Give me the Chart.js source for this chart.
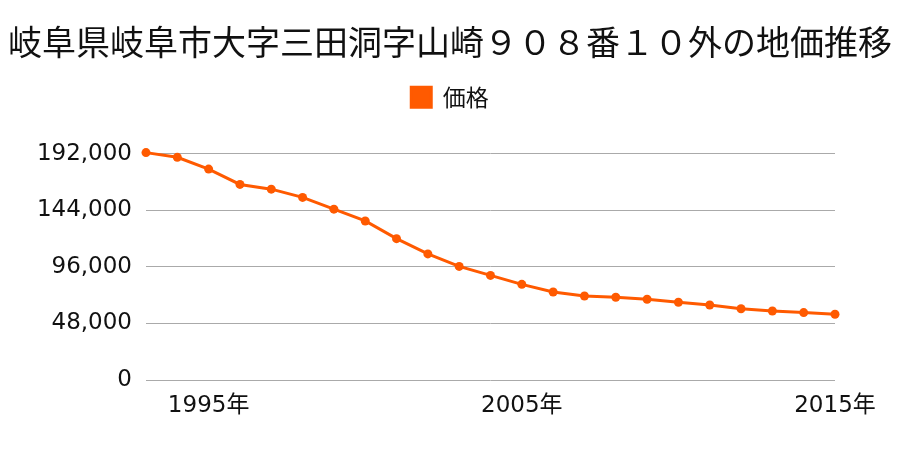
<!DOCTYPE html>
<html><head><meta charset="utf-8">
<script src="https://cdn.jsdelivr.net/npm/chart.js@4.4.1/dist/chart.umd.min.js"></script>
<style>html,body{margin:0;padding:0;background:#fff;}#wrap{width:900px;height:450px;}</style>
</head><body><div id="wrap"><canvas id="c" width="900" height="450"></canvas></div>
<script>
const titleText = '岐阜県岐阜市大字三田洞字山崎９０８番１０外の地価推移';
const seriesName = '価格';
const years = ['1993','1994','1995','1996','1997','1998','1999','2000','2001','2002','2003','2004','2005','2006','2007','2008','2009','2010','2011','2012','2013','2014','2015'];
const prices = [193000,189000,179000,166000,162000,155000,145000,135000,120000,107000,96400,88800,81200,74700,71300,70200,68500,66000,63700,60500,58600,57200,55800];
const xTickLabels = {'1995':'1995年','2005':'2005年','2015':'2015年'};
const yTicks = [0,48000,96000,144000,192000];

const color = '#ff5a00';
const latin = "'DejaVu Sans','Noto Sans CJK JP',sans-serif";
const cjk = "'Noto Sans CJK JP',sans-serif";

new Chart(document.getElementById('c'), {
  type: 'line',
  data: {
    labels: years,
    datasets: [{
      label: seriesName,
      data: prices,
      borderColor: color,
      backgroundColor: color,
      borderWidth: 3,
      pointRadius: 4.5,
      pointBorderWidth: 0,
      pointBackgroundColor: color,
      tension: 0,
      clip: false,
      yAxisID: 'y'
    }]
  },
  options: {
    responsive: false,
    devicePixelRatio: 1,
    animation: false,
    layout: { padding: 0 },
    plugins: {
      title: {
        display: true,
        text: titleText,
        color: '#111',
        font: { family: cjk, size: 34, weight: 'normal', lineHeight: 1.2 },
        padding: { top: 22, bottom: 13 }
      },
      subtitle: {
        display: true,
        text: ' ',
        weight: 500,
        font: { size: 10, lineHeight: 1.2 },
        padding: { top: 0, bottom: 23 }
      },
      legend: {
        display: true,
        labels: {
          boxWidth: 20,
          boxHeight: 20,
          color: '#111',
          font: { family: cjk, size: 23 }
        }
      },
      tooltip: { enabled: false }
    },
    scales: {
      x: {
        type: 'category',
        grid: { display: false, drawTicks: false },
        border: { display: false },
        ticks: {
          autoSkip: false,
          maxRotation: 0,
          padding: 12,
          color: '#111',
          font: { family: latin, size: 23 },
          callback: function(v, i) { return xTickLabels[years[i]] || ''; }
        },
        afterFit: function(s) { s.height = 70; }
      },
      y: {
        min: 0,
        max: 192000,
        grid: { color: '#aaaaaa', lineWidth: 1, drawTicks: false },
        border: { display: false },
        afterBuildTicks: function(s) { s.ticks = yTicks.map(v => ({ value: v })); },
        ticks: {
          padding: 14,
          color: '#111',
          font: { family: latin, size: 23 },
          callback: function(v) { return Number(v).toLocaleString('en-US'); }
        },
        afterFit: function(s) { s.width = 146; }
      },
      yRight: {
        position: 'right',
        display: true,
        grid: { display: false, drawTicks: false },
        border: { display: false },
        ticks: { display: false },
        afterFit: function(s) { s.width = 65; }
      }
    }
  }
});
</script></body></html>
